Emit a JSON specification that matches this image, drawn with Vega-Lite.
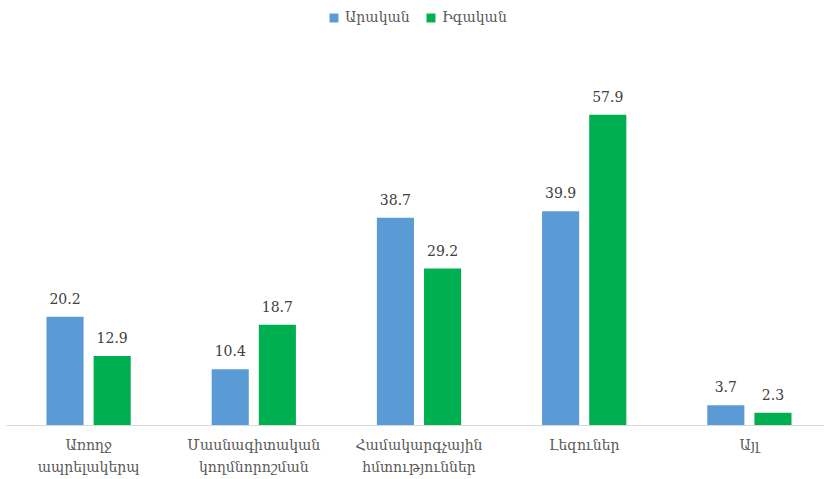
{
  "$schema": "https://vega.github.io/schema/vega-lite/v6.json",
  "width": 826,
  "height": 375,
  "autosize": {"type": "none"},
  "padding": {"left": 6, "top": 50, "right": 0, "bottom": 54},
  "background": "white",
  "config": {"view": {"stroke": null}, "font": "DejaVu Serif"},
  "data": {
    "values": [
      {"cat": "Առողջ ապրելակերպ", "sex": "Արական", "v": 20.2},
      {"cat": "Առողջ ապրելակերպ", "sex": "Իգական", "v": 12.9},
      {"cat": "Մասնագիտական կողմնորոշման", "sex": "Արական", "v": 10.4},
      {"cat": "Մասնագիտական կողմնորոշման", "sex": "Իգական", "v": 18.7},
      {"cat": "Համակարգչային հմտություններ", "sex": "Արական", "v": 38.7},
      {"cat": "Համակարգչային հմտություններ", "sex": "Իգական", "v": 29.2},
      {"cat": "Լեզուներ", "sex": "Արական", "v": 39.9},
      {"cat": "Լեզուներ", "sex": "Իգական", "v": 57.9},
      {"cat": "Այլ", "sex": "Արական", "v": 3.7},
      {"cat": "Այլ", "sex": "Իգական", "v": 2.3}
    ]
  },
  "encoding": {
    "x": {
      "field": "cat", "type": "nominal", "sort": null,
      "scale": {"paddingInner": 0.49, "paddingOuter": 0.245},
      "axis": {
        "title": null, "labelAngle": 0, "ticks": false, "domainColor": "#d9d9d9",
        "labelColor": "#595959", "labelFontSize": 14, "labelPadding": 13,
        "labelLineHeight": 22, "labelExpr": "split(datum.label, ' ')", "labelFont": "DejaVu Serif"
      }
    },
    "xOffset": {"field": "sex", "type": "nominal", "scale": {"paddingInner": 0.213, "paddingOuter": 0}},
    "y": {"field": "v", "type": "quantitative", "scale": {"domain": [0, 70]}, "axis": null}
  },
  "layer": [
    {
      "mark": {"type": "bar"},
      "encoding": {
        "color": {
          "field": "sex", "type": "nominal",
          "scale": {"domain": ["Արական", "Իգական"], "range": ["#5B9BD5", "#00B050"]},
          "legend": {
            "title": null, "orient": "none", "legendX": 321, "legendY": -39, "direction": "horizontal",
            "symbolType": "square", "symbolSize": 80, "symbolStrokeWidth": 0,
            "labelFontSize": 14, "labelColor": "#595959", "columnPadding": 14, "labelFont": "DejaVu Serif"
          }
        }
      }
    },
    {
      "mark": {"type": "text", "baseline": "bottom", "dy": -10, "fontSize": 14, "color": "#404040", "font": "DejaVu Serif"},
      "encoding": {"text": {"field": "v", "type": "quantitative", "format": ".1f"}}
    }
  ]
}
